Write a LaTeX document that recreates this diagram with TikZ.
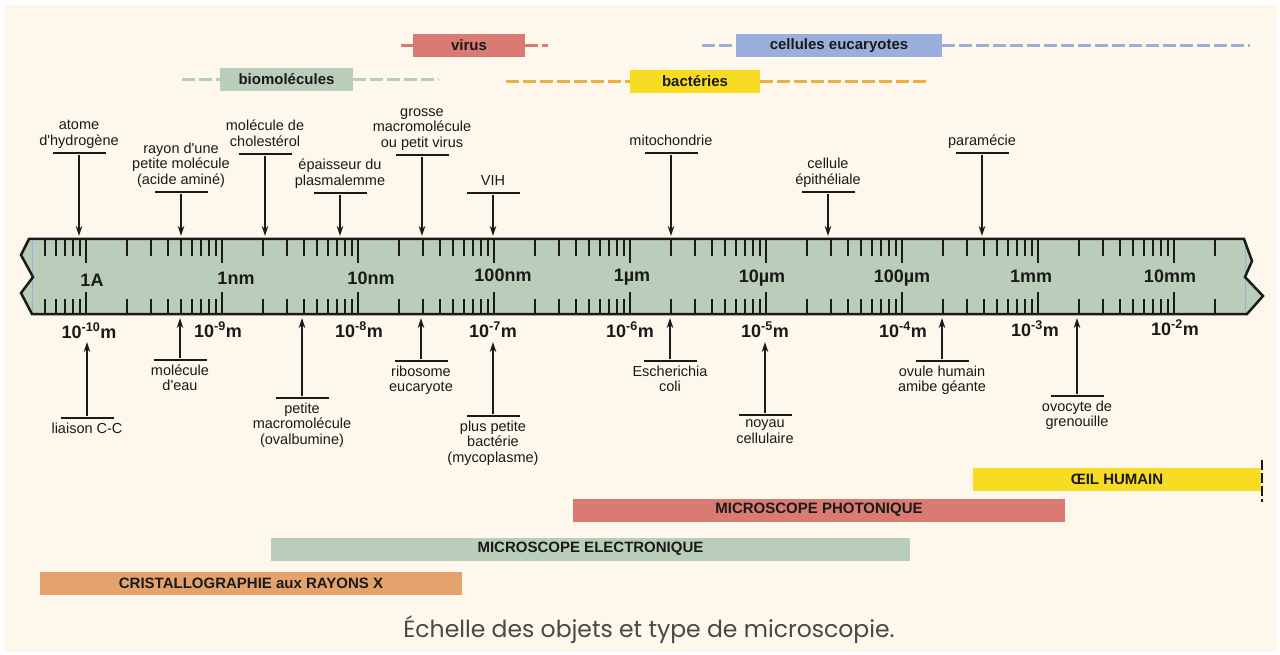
\documentclass[tikz,border=0pt]{standalone}
\usepackage{fontspec}
\setmainfont{Liberation Sans}
\newfontfamily\legende{Poppins}
\usepackage{xcolor}
\usepackage{tikz}
\usetikzlibrary{arrows.meta}

\definecolor{creme}{HTML}{FEF7EC}
\definecolor{vertregle}{HTML}{B9CDBA}
\definecolor{rouge}{HTML}{D97B73}
\definecolor{bleu}{HTML}{9AAFDC}
\definecolor{jaune}{HTML}{F8DC24}
\definecolor{saumon}{HTML}{E4A36C}
\definecolor{orangetiret}{HTML}{EBB13F}
\definecolor{encre}{HTML}{1A1A1A}

\begin{document}
\begin{tikzpicture}[
    x=1pt, y=-1pt,
    etiq/.style={font=\fontsize{14.5}{15.5}\selectfont, text=encre, align=center, inner sep=0pt},
    barre/.style={fill=encre, minimum width=53pt, minimum height=2.8pt, inner sep=0pt},
    fleche/.style={draw=encre, line width=1.6pt, -{Stealth[length=10pt, width=6.5pt]}},
    petite/.style={draw=encre, line width=2.2pt},
    grande/.style={draw=encre, line width=2.8pt},
    boite/.style={font=\bfseries\fontsize{15}{18}\selectfont, text=encre, inner sep=0pt, minimum height=23pt},
    tiret/.style={line width=3.5pt, dash pattern=on 13pt off 4pt},
    unite/.style={font=\bfseries\fontsize{18}{20}\selectfont, text=encre, anchor=base, inner sep=0pt}
]
\useasboundingbox (0,0) rectangle (1280,655);
\fill[white] (0,0) rectangle (1280,655);
\fill[creme] (4,5) rectangle (1277,652);

% groupes d'objets (en haut)
\node[boite, fill=rouge, minimum width=112pt] (virus) at (469,45.5) {virus};
\coordinate (virus-g) at (401,45.5);
\coordinate (virus-d) at (548,45.5);
\draw[tiret, rouge] (virus-g) -- (virus.west);
\draw[tiret, rouge] (virus.east) -- (virus-d);

\node[boite, fill=bleu, minimum width=206pt] (cellules) at (839,45.5) {cellules eucaryotes};
\coordinate (cellules-g) at (702,45.5);
\coordinate (cellules-d) at (1250,45.5);
\draw[tiret, bleu] (cellules-g) -- (cellules.west);
\draw[tiret, bleu] (cellules.east) -- (cellules-d);

\node[boite, fill=vertregle, minimum width=133pt] (biomol) at (286.5,79.5) {biomolécules};
\coordinate (biomol-g) at (182,79.5);
\coordinate (biomol-d) at (439,79.5);
\draw[tiret, vertregle] (biomol-g) -- (biomol.west);
\draw[tiret, vertregle] (biomol.east) -- (biomol-d);

\node[boite, fill=jaune, minimum width=130pt] (bacteries) at (695,81.5) {bactéries};
\coordinate (bacteries-g) at (506,81.5);
\coordinate (bacteries-d) at (926,81.5);
\draw[tiret, orangetiret] (bacteries-g) -- (bacteries.west);
\draw[tiret, orangetiret] (bacteries.east) -- (bacteries-d);

% la regle
\fill[vertregle] (29,239) -- (1244,239) -- (1252,261) -- (1245,277) -- (1263,296)
    -- (1247,314) -- (32,314) -- (21,293) -- (33,277) -- (21,255) -- cycle;
\draw[bleu, line width=0.8pt] (32,241) -- (32,312) (1245,241) -- (1245,312);
\foreach \k in {-1,...,8}{
  \foreach \m in {2,...,9}{
    \pgfmathsetmacro{\xg}{86+136*(\k+log10(\m))}
    \ifdim\xg pt>40pt\relax\ifdim\xg pt<1230pt\relax
      \draw[petite] (\xg,239) -- (\xg,256) (\xg,314) -- (\xg,299);
    \fi\fi
  }
}
\foreach \k in {0,...,8}
  \draw[grande] (86+136*\k,239) -- (86+136*\k,263) (86+136*\k,314) -- (86+136*\k,292);
\draw[encre, line width=2.5pt, line join=miter] (29,239) -- (1244,239) -- (1252,261)
    -- (1245,277) -- (1263,296) -- (1247,314) -- (32,314) -- (21,293) -- (33,277)
    -- (21,255) -- cycle;

% unites dans la regle
\foreach \nm/\x/\y/\txt in {
    a/92/287/1A, nm/236/284/1nm, dnm/371/284/10nm, cnm/503/281/100nm,
    um/632/281/1µm, dum/762/282/10µm, cum/902/283/100µm,
    mm/1031/282/1mm, dmm/1170/282/10mm}
  \node[unite] (u-\nm) at (\x,\y) {\txt};

% puissances de dix
\foreach \nm/\x/\y/\p in {
    a/89/338/-10, b/218/337/-9, c/359/337/-8, d/493/337/-7, e/630/337/-6,
    f/765/337/-5, g/903/337/-4, h/1035/336/-3, i/1175/335/-2}
  \node[unite] (p-\nm) at (\x,\y) {10\textsuperscript{\p}m};

% objets au-dessus de la regle
\foreach \nm/\x/\y/\txt in {
    hydrogene/79/153/{atome\\d\textquotesingle hydrogène},
    rayon/181/192/{rayon d\textquotesingle une\\petite molécule\\(acide aminé)},
    cholesterol/265/154/{molécule de\\cholestérol},
    plasma/340/193/{épaisseur du\\plasmalemme},
    grosse/422/155/{grosse\\macromolécule\\ou petit virus},
    vih/493/193/{VIH},
    mito/671/153/{mitochondrie},
    epith/828/192/{cellule\\épithéliale},
    param/982/153/{paramécie}}{
  \node[barre] (\nm) at (\x,\y) {};
  \node[etiq, anchor=south, text depth=0pt] (\nm-t) at (\x,\y-7.5) {\txt};
  \coordinate (\nm-r) at (\x,236);
  \draw[fleche] (\nm) -- (\nm-r);
}

% objets au-dessous de la regle
\foreach \nm/\x/\y/\bout/\txt in {
    liaison/87/418/342/{liaison C-C},
    eau/180/360/318/{molécule\\d\textquotesingle eau},
    ovalb/302/398/318/{petite\\macromolécule\\(ovalbumine)},
    ribo/421/361/318/{ribosome\\eucaryote},
    myco/493/416/342/{plus petite\\bactérie\\(mycoplasme)},
    coli/670/361/318/{Escherichia\\coli},
    noyau/765/415/342/{noyau\\cellulaire},
    ovule/942/361/318/{ovule humain\\amibe géante},
    ovocyte/1077/396/318/{ovocyte de\\grenouille}}{
  \node[barre] (\nm) at (\x,\y) {};
  \node[etiq, anchor=north] (\nm-t) at (\x,\y+4.5) {\txt};
  \coordinate (\nm-r) at (\x,\bout);
  \draw[fleche] (\nm) -- (\nm-r);
}

% domaines d'observation
\node[boite, fill=jaune, minimum width=288pt] (oeil) at (1117,479.5) {ŒIL HUMAIN};
\draw[encre, line width=2.5pt, dash pattern=on 10pt off 3pt] (1262,460) -- (1262,502);
\node[boite, fill=rouge, minimum width=492pt] (photo) at (819,510) {MICROSCOPE PHOTONIQUE};
\node[boite, fill=vertregle, minimum width=639pt] (electro) at (590.5,549) {MICROSCOPE ELECTRONIQUE};
\node[boite, fill=saumon, minimum width=422pt] (cristal) at (251,583.5) {CRISTALLOGRAPHIE aux RAYONS X};

% legende
\node[font=\legende\fontsize{23.5}{26}\selectfont, text=encre!80] (legende) at (649,630)
    {Échelle des objets et type de microscopie.};
\end{tikzpicture}
\end{document}
